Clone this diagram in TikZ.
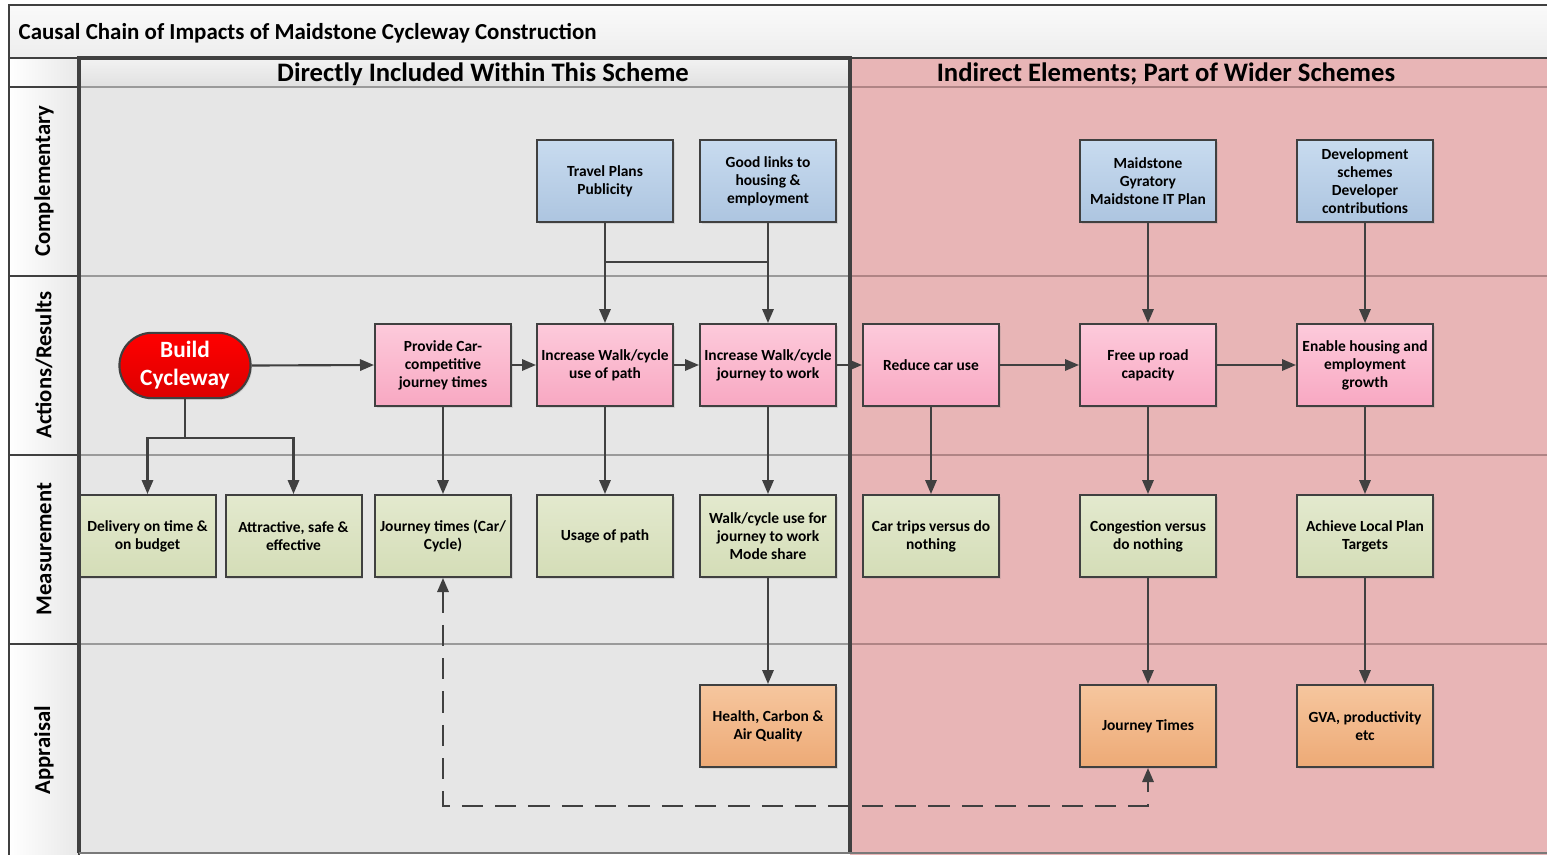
\documentclass[tikz,border=0pt]{standalone}
\usepackage{fontspec}
\setmainfont{Carlito}
\usetikzlibrary{arrows.meta,shadows,shapes.misc,calc}
\definecolor{dline}{HTML}{404040}
\definecolor{graybg}{HTML}{E6E6E6}
\definecolor{pinkbg}{HTML}{E8B5B6}
\definecolor{graydiv}{HTML}{9A9A9A}
\definecolor{pinkdiv}{HTML}{B08485}
\definecolor{bluet}{HTML}{C8DBEF}
\definecolor{blueb}{HTML}{ADC5E0}
\definecolor{pinkt}{HTML}{FDCADB}
\definecolor{pinkb}{HTML}{F8A8C2}
\definecolor{greent}{HTML}{E3E9CE}
\definecolor{greenb}{HTML}{D4DDB7}
\definecolor{oranget}{HTML}{F6C69E}
\definecolor{orangeb}{HTML}{EDAA76}
\definecolor{redt}{HTML}{FF0000}
\definecolor{redb}{HTML}{DD0000}
\begin{document}
\begin{tikzpicture}[x=0.75pt,y=-0.75pt,
  >={Triangle[length=10.5pt,width=8.5pt]},
  box/.style={draw=dline, line width=1.5pt, minimum width=102pt, minimum height=61.5pt,
    align=center, inner sep=1pt, font=\bfseries\fontsize{11.6}{13.5}\selectfont,
    drop shadow={opacity=0.2,shadow xshift=1.2pt,shadow yshift=-1.2pt}},
  bluebox/.style={box, top color=bluet, bottom color=blueb},
  pinkbox/.style={box, top color=pinkt, bottom color=pinkb},
  greenbox/.style={box, top color=greent, bottom color=greenb},
  orangebox/.style={box, top color=oranget, bottom color=orangeb},
  conn/.style={draw=dline, line width=1.6pt},
  lanelabel/.style={rotate=90, font=\bfseries\fontsize{17}{19}\selectfont},
  header/.style={font=\bfseries\fontsize{20}{22}\selectfont},
  labelcell/.style={draw=dline, line width=1.5pt, left color=white, right color=black!9}
]
\useasboundingbox (0,0) rectangle (1547,854);
\clip (0,0) rectangle (1547,854);
% backgrounds
\fill[white] (0,0) rectangle (1547,854);
\fill[graybg] (79,87) rectangle (850,854);
\fill[pinkbg] (850,58) rectangle (1560,860);
\shade[top color=black!5, bottom color=black!12] (79,58) rectangle (850,87);
% title bar
\draw[dline, line width=1.5pt, top color=black!2, bottom color=black!7] (9,5) rectangle (1560,58);
\node[anchor=west, font=\bfseries\fontsize{17.2}{19}\selectfont] (title) at (14,33) {Causal Chain of Impacts of Maidstone Cycleway Construction};
% lane dividers
\foreach \yy in {87,276,455,644} {
  \draw[graydiv, line width=1.8pt] (79,\yy) -- (850,\yy);
  \draw[pinkdiv, line width=1.8pt] (850,\yy) -- (1560,\yy);
}
% label column
\draw[labelcell] (9,58) rectangle (79,87);
\draw[labelcell] (9,87) rectangle (79,276);
\draw[labelcell] (9,276) rectangle (79,455);
\draw[labelcell] (9,455) rectangle (79,644);
\draw[labelcell] (9,644) rectangle (79,870);
\node[lanelabel] (lc) at (44,181) {Complementary};
\node[lanelabel] (la) at (44,365) {Actions/Results};
\node[lanelabel] (lm) at (44,549) {Measurement};
\node[lanelabel] (lp) at (44,750) {Appraisal};
% headers
\node[header] (h1) at (483,74) {Directly Included Within This Scheme};
\node[header] (h2) at (1166,74) {Indirect Elements; Part of Wider Schemes};
% thick frame
\draw[dline, line width=3pt] (79,852.5) -- (79,58) -- (850,58) -- (850,852.5);
\draw[dline!70, line width=1.5pt] (79,853) -- (1560,853);

% complementary
\node[bluebox] (travel) at (605,181) {Travel Plans\\Publicity};
\node[bluebox] (links) at (768,181) {Good links to\\housing \&\\employment};
\node[bluebox] (gyr) at (1148,181) {Maidstone\\Gyratory\\Maidstone IT Plan};
\node[bluebox] (dev) at (1365,181) {Development\\schemes\\Developer\\contributions};
% actions
\node[draw=dline, line width=1.6pt, rounded rectangle, minimum width=105pt, minimum height=49pt,
  top color=redt, bottom color=redb, text=white, align=center,
  font=\bfseries\fontsize{17.5}{21}\selectfont,
  drop shadow={opacity=0.2,shadow xshift=1.2pt,shadow yshift=-1.2pt}] (build) at (185,365.5) {Build\\Cycleway};
\node[pinkbox] (prov) at (443,365) {Provide Car-\\competitive\\journey times};
\node[pinkbox] (incuse) at (605,365) {Increase Walk/cycle\\use of path};
\node[pinkbox] (incjw) at (768,365) {Increase Walk/cycle\\journey to work};
\node[pinkbox] (red) at (931,365) {Reduce car use};
\node[pinkbox] (free) at (1148,365) {Free up road\\capacity};
\node[pinkbox] (enab) at (1365,365) {Enable housing and\\employment\\growth};
% measurement
\node[greenbox] (deliv) at (147.5,536) {Delivery on time \&\\on budget};
\node[greenbox] (attr) at (293.5,536) {Attractive, safe \&\\effective};
\node[greenbox] (jtc) at (443,536) {Journey times (Car/\\Cycle)};
\node[greenbox] (usage) at (605,536) {Usage of path};
\node[greenbox] (wcu) at (768,536) {Walk/cycle use for\\journey to work\\Mode share};
\node[greenbox] (cart) at (931,536) {Car trips versus do\\nothing};
\node[greenbox] (cong) at (1148,536) {Congestion versus\\do nothing};
\node[greenbox] (ach) at (1365,536) {Achieve Local Plan\\Targets};
% appraisal
\node[orangebox] (health) at (768,726) {Health, Carbon \&\\Air Quality};
\node[orangebox] (jt) at (1148,726) {Journey Times};
\node[orangebox] (gva) at (1365,726) {GVA, productivity\\etc};

% connectors
\coordinate (bj) at (185,438);
\coordinate (tj1) at (605,262);
\coordinate (tj2) at (768,262);
\coordinate (dl) at (443,806);
\draw[conn,->] (build.east) -- (prov.west);
\draw[conn] (build.south) -- (bj);
\draw[conn,->] (bj) -| (deliv.north);
\draw[conn,->] (bj) -| (attr.north);
\draw[conn,->] (prov) -- (incuse);
\draw[conn,->] (incuse) -- (incjw);
\draw[conn,->] (incjw) -- (red);
\draw[conn,->] (red) -- (free);
\draw[conn,->] (free) -- (enab);
\draw[conn,->] (travel) -- (incuse);
\draw[conn,->] (links) -- (incjw);
\draw[conn] (tj1) -- (tj2);
\draw[conn,->] (gyr) -- (free);
\draw[conn,->] (dev) -- (enab);
\draw[conn,->] (prov) -- (jtc);
\draw[conn,->] (incuse) -- (usage);
\draw[conn,->] (incjw) -- (wcu);
\draw[conn,->] (wcu) -- (health);
\draw[conn,->] (red) -- (cart);
\draw[conn,->] (free) -- (cong);
\draw[conn,->] (cong) -- (jt);
\draw[conn,->] (enab) -- (ach);
\draw[conn,->] (ach) -- (gva);
\draw[conn,<->,dash pattern=on 16pt off 9pt] (jtc.south) -- (dl) -| (jt.south);
\end{tikzpicture}
\end{document}
